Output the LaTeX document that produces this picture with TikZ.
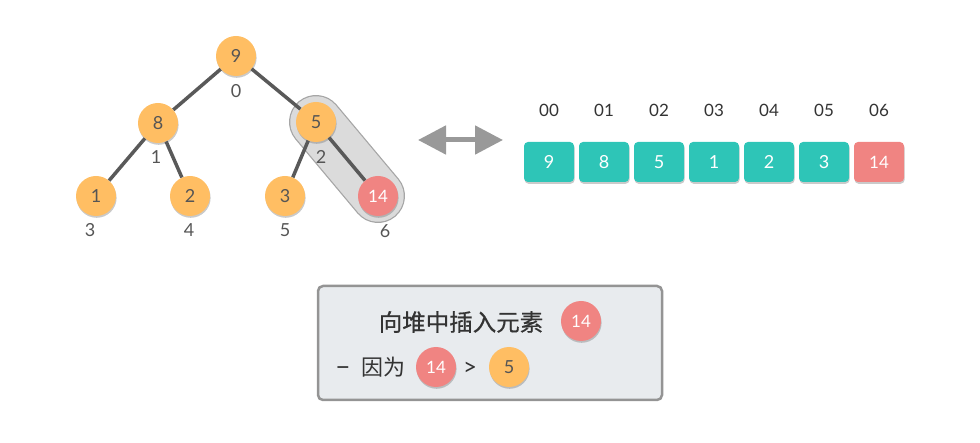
\documentclass[tikz,border=0pt]{standalone}
\usepackage{fontspec}
\setmainfont{Lato}
\newfontfamily\cjk{Noto Sans CJK SC}
\newfontfamily\cjkm[FakeBold=0.6]{Noto Sans CJK SC}
\usetikzlibrary{shadows,arrows.meta,backgrounds}
\definecolor{orng}{HTML}{FFBE63}
\definecolor{redn}{HTML}{F08482}
\definecolor{teal2}{HTML}{2EC5B7}
\definecolor{edgec}{HTML}{595959}
\definecolor{txtc}{HTML}{555555}
\definecolor{boxfill}{HTML}{E8EBEE}
\tikzset{
  shad/.style={drop shadow={opacity=0.35,shadow xshift=0.6pt,shadow yshift=-1.8pt,fill=black!60}},
  onode/.style={circle,fill=orng,minimum size=40pt,inner sep=0pt,text=txtc,font=\fontsize{18}{18}\selectfont,shad},
  rnode/.style={circle,fill=redn,minimum size=40pt,inner sep=0pt,text=white,font=\fontsize{17}{17}\selectfont,shad},
  cell/.style={rounded corners=4pt,fill=teal2,minimum width=50pt,minimum height=40pt,inner sep=0pt,text=white,font=\fontsize{18}{18}\selectfont,shad},
  rcell/.style={cell,fill=redn,font=\fontsize{17}{17}\selectfont},
  idx/.style={text=txtc,font=\fontsize{18}{18}\selectfont,inner sep=0pt},
  aidx/.style={text=black!80,font=\fontsize{17}{17}\selectfont,inner sep=0pt},
  tedge/.style={draw=edgec,line width=3.5pt},
  btxt/.style={text=black!80,inner sep=0pt,anchor=base west},
}
\begin{document}
\begin{tikzpicture}[x=1pt,y=-1pt]
\useasboundingbox (0,0) rectangle (980,443);
% tree nodes
\node[onode] (n0) at (236,56) {9};
\node[onode] (n1) at (158,123) {8};
\node[onode] (n2) at (316,122) {5};
\node[onode] (n3) at (96,196) {1};
\node[onode] (n4) at (190,196) {2};
\node[onode] (n5) at (285,196) {3};
\node[rnode] (n6) at (378,196) {14};
% capsule
\begin{scope}[on background layer]
\draw[line width=54pt,line cap=round,draw=black!35] (n2.center) -- (n6.center);
\draw[line width=51.5pt,line cap=round,draw=black!14] (n2.center) -- (n6.center);
\end{scope}
\draw[tedge] (n0) -- (n1);
\draw[tedge] (n0) -- (n2);
\draw[tedge] (n1) -- (n3);
\draw[tedge] (n1) -- (n4);
\draw[tedge] (n2) -- (n5);
\draw[tedge] (n2) -- (n6);
% index labels
\node[idx] (i0) at (236,91) {0};
\node[idx] (i1) at (156,157) {1};
\node[idx] (i2) at (321,157) {2};
\node[idx] (i3) at (90,230) {3};
\node[idx] (i4) at (189,230) {4};
\node[idx] (i5) at (285,230) {5};
\node[idx] (i6) at (385,231) {6};
% double arrow
\coordinate (al) at (418,140);
\coordinate (ar) at (503,140);
\draw[draw=black!40,line width=5pt,{Triangle[length=28pt,width=28pt]}-{Triangle[length=28pt,width=28pt]}] (al) -- (ar);
% array
\foreach \v/\lab [count=\i from 0] in {9/00,8/01,5/02,1/03,2/04,3/05} {
  \node[cell] (a\i) at (549+55*\i,162) {\v};
  \node[aidx] (l\i) at (549+55*\i,110) {\lab};
}
\node[rcell] (a6) at (879,162) {14};
\node[aidx] (l6) at (879,110) {06};
% info box
\node[draw=black!42,line width=2.5pt,fill=boxfill,rounded corners=5pt,minimum width=344pt,minimum height=114pt] (box) at (490,343) {};
\node[text=black!80,font=\cjkm\fontsize{23.5}{24}\selectfont,inner sep=0pt] (t1) at (461,322) {向堆中插入元素};
\node[rnode] (b1) at (581,321) {14};
\node[btxt,font=\fontsize{27}{27}\selectfont] (t2a) at (335,376) {–};
\node[btxt,font=\cjk\fontsize{22}{22}\selectfont] (t2) at (361,376) {因为};
\node[rnode] (b2) at (436,367) {14};
\node[btxt,font=\fontsize{24}{24}\selectfont] (gt) at (463,376) {>};
\node[onode] (b3) at (509,367) {5};
\end{tikzpicture}
\end{document}
